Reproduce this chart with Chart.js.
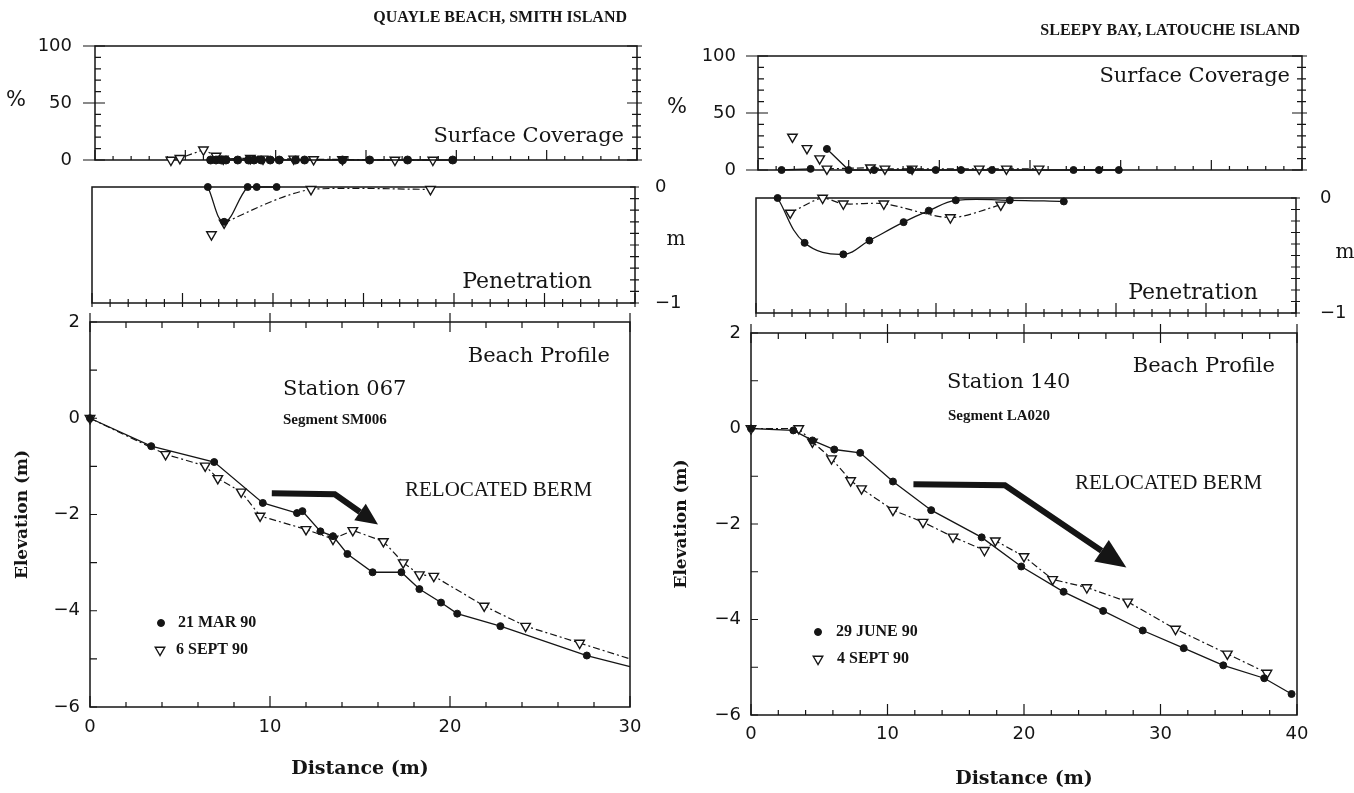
<!DOCTYPE html>
<html>
<head>
<meta charset="utf-8">
<script src="https://cdn.jsdelivr.net/npm/chart.js@4.4.1/dist/chart.umd.min.js"></script>
<style>
  html, body { margin: 0; background: #fff; }
  #wrap { position: relative; width: 1354px; height: 793px; overflow: hidden; }
  #wrap canvas { position: absolute; left: 0; top: 0; }
</style>
</head>
<body>
<div id="wrap">
  <canvas id="scL" width="1354" height="793"></canvas>
  <canvas id="penL" width="1354" height="793"></canvas>
  <canvas id="profL" width="1354" height="793"></canvas>
  <canvas id="scR" width="1354" height="793"></canvas>
  <canvas id="penR" width="1354" height="793"></canvas>
  <canvas id="profR" width="1354" height="793"></canvas>
</div>
<script>
// ---- Quayle Beach, Smith Island (Station 067) ----
const scMarX  = [6.4, 6.7, 7.0, 7.25, 7.9, 8.5, 8.8, 9.2, 9.7, 10.2, 11.1, 11.6, 13.7, 15.2, 17.3, 19.8];
const scMarY  = [0, 0, 0, 0, 0, 0, 0, 0, 0, 0, 0, 0, 0, 0, 0, 0];
const scSepX  = [4.2, 4.7, 6.0, 6.7, 7.1, 8.6, 9.3, 11.0, 12.1, 13.7, 16.6, 18.7];
const scSepY  = [0, 1.5, 9, 3.5, 1, 1.5, 1, 1, 0.5, 0.5, 0, 0];
const penMarX = [6.4, 7.3, 8.6, 9.1, 10.2];
const penMarY = [0, -0.30, 0, 0, 0];
const penSepX = [6.6, 7.3, 12.1, 18.7];
const penSepY = [-0.41, -0.31, -0.02, -0.02];
const profMarX = [0, 3.4, 6.9, 9.6, 11.5, 11.8, 12.8, 13.5, 14.3, 15.7, 17.3, 18.3, 19.5, 20.4, 22.8, 27.6, 30];
const profMarY = [0, -0.58, -0.91, -1.76, -1.97, -1.93, -2.35, -2.45, -2.82, -3.2, -3.2, -3.55, -3.83, -4.06, -4.32, -4.93, -5.16];
const profSepX = [0, 4.2, 6.4, 7.1, 8.4, 9.45, 12.0, 13.5, 14.6, 16.3, 17.4, 18.3, 19.1, 21.9, 24.2, 27.2, 30];
const profSepY = [0, -0.75, -0.99, -1.25, -1.53, -2.03, -2.31, -2.51, -2.33, -2.56, -3.0, -3.25, -3.28, -3.9, -4.32, -4.67, -5.0];

// ---- Sleepy Bay, Latouche Island (Station 140) ----
const scJunX  = [1.3, 2.9, 3.8, 5.0, 6.4, 8.4, 9.8, 11.2, 12.9, 17.4, 18.8, 19.9];
const scJunY  = [0, 1, 18.5, 0, 0, 0, 0, 0, 0, 0, 0, 0];
const scSep4X = [1.9, 2.7, 3.4, 3.8, 6.2, 7.0, 8.5, 12.2, 13.7, 15.5];
const scSep4Y = [29, 19, 10, 1, 2, 1, 1, 1, 1, 1];
const penJunX = [1.2, 2.7, 4.85, 6.3, 8.2, 9.6, 11.1, 14.1, 17.1];
const penJunY = [0, -0.39, -0.49, -0.37, -0.21, -0.11, -0.02, -0.02, -0.03];
const penSep4X = [1.9, 3.7, 4.85, 7.1, 10.8, 13.6];
const penSep4Y = [-0.13, 0, -0.05, -0.05, -0.17, -0.06];
const profJunX = [0, 3.1, 4.5, 6.1, 8.0, 10.4, 13.2, 16.9, 19.8, 22.9, 25.8, 28.7, 31.7, 34.6, 37.6, 39.6];
const profJunY = [0, -0.04, -0.25, -0.44, -0.51, -1.11, -1.71, -2.28, -2.89, -3.42, -3.82, -4.23, -4.6, -4.96, -5.23, -5.56];
const profSep4X = [0, 3.5, 4.5, 5.9, 7.3, 8.1, 10.4, 12.6, 14.8, 17.1, 17.9, 20.0, 22.1, 24.6, 27.6, 31.1, 34.9, 37.8];
const profSep4Y = [0, 0, -0.28, -0.63, -1.09, -1.26, -1.71, -1.96, -2.27, -2.55, -2.35, -2.68, -3.16, -3.33, -3.63, -4.2, -4.72, -5.12];

const INK = '#151515';
const SANS = '"DejaVu Sans", sans-serif';
const W = 1354, H = 793;

const minus = v => String(v).replace('-', '\u2212');
const pts = (xs, ys) => xs.map((x, i) => ({ x: x, y: ys[i] }));
const hide = list => c => list.includes(c.p0DataIndex) ? 'rgba(0,0,0,0)' : undefined;

function dots(xs, ys, extra) {
  return Object.assign({
    data: pts(xs, ys), borderColor: INK, borderWidth: 1.3, tension: 0, clip: false,
    pointStyle: 'circle', pointRadius: 3.5, pointBorderWidth: 1,
    pointBackgroundColor: INK, pointBorderColor: INK
  }, extra || {});
}
function tris(xs, ys, extra) {
  return Object.assign({
    data: pts(xs, ys), borderColor: INK, borderWidth: 1.2, borderDash: [7, 3, 2, 3], tension: 0, clip: false,
    pointStyle: 'triangle', pointRotation: 180, pointRadius: 5.5, pointBorderWidth: 1.4,
    pointBackgroundColor: '#fff', pointBorderColor: INK
  }, extra || {});
}
// line runs on to the frame edge without a marker at its last point
const noLast = (n, r) => c => c.dataIndex === n - 1 ? 0 : r;

// tick marks drawn along the frame, in scale units
const SC_TICKS = [
  { axis: 'x', side: 'bottom', step: 1, major: 5, minIn: 4, majIn: 10 },
  { axis: 'y', side: 'left', step: 10, major: 50, minIn: 6, majIn: 10, majOut: 12 },
  { axis: 'y', side: 'right', step: 10, major: 50, minIn: 5, minOut: 4, majIn: 10, majOut: 5 }
];
const PEN_TICKS = [
  { axis: 'x', side: 'bottom', step: 1, major: 5, minIn: 4, minOut: 4, majIn: 10, majOut: 4 },
  { axis: 'y', side: 'right', step: 0.1, major: 1, minIn: 5, minOut: 4, majIn: 5, majOut: 4 }
];
const PROF_TICKS = [
  { axis: 'y', side: 'left', step: 1, minIn: 7 },
  { axis: 'x', side: 'bottom', step: 2, major: 10, minIn: 5, majIn: 11 },
  { axis: 'x', side: 'top', step: 2, major: 10, minIn: 6, majIn: 10, majOut: 9 }
];

const DECOR = {};

function drawTicks(chart, t) {
  const s = chart.scales[t.axis], a = chart.chartArea, ctx = chart.ctx;
  const n = Math.round((s.max - s.min) / t.step);
  ctx.beginPath();
  for (let i = 0; i <= n; i++) {
    const v = s.min + i * t.step;
    const maj = t.major && Math.abs(v / t.major - Math.round(v / t.major)) < 1e-6;
    const inn = maj ? (t.majIn || 0) : (t.minIn || 0);
    const out = maj ? (t.majOut || 0) : (t.minOut || 0);
    const p = s.getPixelForValue(v);
    if (t.side === 'bottom') { ctx.moveTo(p, a.bottom + out); ctx.lineTo(p, a.bottom - inn); }
    if (t.side === 'top') { ctx.moveTo(p, a.top - out); ctx.lineTo(p, a.top + inn); }
    if (t.side === 'left') { ctx.moveTo(a.left - out, p); ctx.lineTo(a.left + inn, p); }
    if (t.side === 'right') { ctx.moveTo(a.right + out, p); ctx.lineTo(a.right - inn, p); }
  }
  ctx.stroke();
}

function drawArrow(chart, ar) {
  const xs = chart.scales.x, ys = chart.scales.y, ctx = chart.ctx;
  const p = ar.pts.map(q => [xs.getPixelForValue(q[0]), ys.getPixelForValue(q[1])]);
  const n = p.length, tip = p[n - 1], prev = p[n - 2];
  const ang = Math.atan2(tip[1] - prev[1], tip[0] - prev[0]);
  const base = [tip[0] - Math.cos(ang) * ar.head, tip[1] - Math.sin(ang) * ar.head];
  ctx.lineWidth = ar.w; ctx.lineJoin = 'miter'; ctx.lineCap = 'butt';
  ctx.beginPath();
  ctx.moveTo(p[0][0], p[0][1]);
  for (let i = 1; i < n - 1; i++) ctx.lineTo(p[i][0], p[i][1]);
  ctx.lineTo(base[0], base[1]);
  ctx.stroke();
  const hw = ar.headW / 2, nx = -Math.sin(ang), ny = Math.cos(ang);
  ctx.beginPath();
  ctx.moveTo(tip[0], tip[1]);
  ctx.lineTo(base[0] + nx * hw, base[1] + ny * hw);
  ctx.lineTo(base[0] - nx * hw, base[1] - ny * hw);
  ctx.closePath();
  ctx.fill();
}

const decor = {
  id: 'decor',
  beforeDatasetsDraw(chart) {
    const d = DECOR[chart.canvas.id] || {}, ctx = chart.ctx, a = chart.chartArea;
    ctx.save();
    ctx.strokeStyle = INK; ctx.lineWidth = 1.5;
    ctx.strokeRect(a.left, a.top, a.right - a.left, a.bottom - a.top);
    ctx.lineWidth = 1.2;
    (d.ticks || []).forEach(t => drawTicks(chart, t));
    ctx.restore();
  },
  afterDatasetsDraw(chart) {
    const d = DECOR[chart.canvas.id] || {}, ctx = chart.ctx;
    ctx.save();
    ctx.strokeStyle = INK; ctx.fillStyle = INK;
    (d.arrows || []).forEach(ar => drawArrow(chart, ar));
    (d.texts || []).forEach(t => {
      ctx.font = t.font; ctx.textAlign = t.align || 'left'; ctx.textBaseline = 'middle';
      ctx.fillStyle = INK;
      ctx.fillText(t.text, t.x, t.y);
    });
    (d.keys || []).forEach(k => {
      const ds = chart.data.datasets[k.ds];
      ctx.setLineDash([]);
      ctx.fillStyle = ds.pointBackgroundColor; ctx.strokeStyle = ds.pointBorderColor;
      ctx.lineWidth = ds.pointBorderWidth;
      Chart.helpers.drawPoint(ctx, { pointStyle: ds.pointStyle, rotation: ds.pointRotation || 0, radius: k.r, borderWidth: ds.pointBorderWidth }, k.x, k.y);
      ctx.fillStyle = INK;
      ctx.font = k.font; ctx.textAlign = 'left'; ctx.textBaseline = 'middle';
      ctx.fillText(k.text, k.tx, k.y);
    });
    ctx.restore();
  }
};

function panel(id, area, o) {
  const yPos = o.yPos || 'left';
  const yW = o.yW || 0, xH = o.xH || 0;
  const pad = {
    left: area.l - (yPos === 'left' ? yW : 0),
    right: W - area.r - (yPos === 'right' ? yW : 0),
    top: area.t,
    bottom: H - area.b - xH
  };
  DECOR[id] = o.decor;
  return new Chart(document.getElementById(id), {
    type: 'line',
    data: { datasets: o.datasets },
    options: {
      responsive: false, animation: false, events: [],
      layout: { padding: pad },
      plugins: { legend: { display: false }, tooltip: { enabled: false } },
      scales: {
        x: {
          type: 'linear', min: o.xMin, max: o.xMax, display: xH > 0,
          grid: { display: false, drawTicks: false }, border: { display: false },
          ticks: { stepSize: o.xStep, padding: o.xPad || 10, color: INK, maxRotation: 0,
                   font: { family: SANS, size: 18 } },
          title: o.xTitle || { display: false },
          afterFit: s => { s.height = xH; }
        },
        y: {
          type: 'linear', min: o.yMin, max: o.yMax, position: yPos, display: yW > 0,
          grid: { display: false, drawTicks: false }, border: { display: false },
          ticks: { stepSize: o.yStep, padding: o.yPad || 10, color: INK,
                   font: { family: SANS, size: 18 }, callback: v => minus(v) },
          title: o.yTitle || { display: false },
          afterFit: s => { s.width = yW; }
        }
      }
    },
    plugins: [decor]
  });
}

const ANNOT = '"DejaVu Serif", serif';
const TIMES = '"Liberation Serif", serif';
const xTitle = { display: true, text: 'Distance (m)', color: INK, padding: { top: 4, bottom: 0 },
                 font: { family: ANNOT, size: 19, weight: 'bold' } };
const yTitle = { display: true, text: 'Elevation (m)', color: INK, padding: { top: 4, bottom: 0 },
                 font: { family: ANNOT, size: 17, weight: 'bold' } };

// ---------- left column ----------
panel('scL', { l: 95, r: 637, t: 46, b: 160 }, {
  xMin: 0, xMax: 30, yMin: 0, yMax: 100, yStep: 50, yW: 60, yPad: 23,
  datasets: [dots(scMarX, scMarY, { pointRadius: 4 }), tris(scSepX, scSepY)],
  decor: { ticks: SC_TICKS, texts: [
    { text: 'QUAYLE BEACH, SMITH ISLAND', x: 627, y: 18, font: 'bold 16px ' + TIMES, align: 'right' },
    { text: '%', x: 16, y: 101, font: '21px ' + SANS, align: 'center' },
    { text: 'Surface Coverage', x: 624, y: 137, font: '21px ' + ANNOT, align: 'right' }
  ] }
});

panel('penL', { l: 92, r: 635, t: 187, b: 303 }, {
  xMin: 0, xMax: 30, yMin: -1, yMax: 0, yStep: 1, yPos: 'right', yW: 50, yPad: 20,
  datasets: [dots(penMarX, penMarY, { tension: 0.4 }),
             tris(penSepX, penSepY, { tension: 0.3, segment: { borderColor: hide([0]) } })],
  decor: { ticks: PEN_TICKS, texts: [
    { text: 'Penetration', x: 592, y: 282, font: '22px ' + ANNOT, align: 'right' },
    { text: 'm', x: 676, y: 240, font: '20px ' + ANNOT, align: 'center' }
  ] }
});

panel('profL', { l: 90, r: 630, t: 322, b: 707 }, {
  xMin: 0, xMax: 30, xStep: 10, yMin: -6, yMax: 2, yStep: 2, yW: 82, xH: 73, xPad: 10,
  xTitle: xTitle, yTitle: yTitle,
  datasets: [dots(profMarX, profMarY, { pointRadius: noLast(profMarX.length, 3.5) }),
             tris(profSepX, profSepY, { pointRadius: noLast(profSepX.length, 5.5) })],
  decor: {
    ticks: PROF_TICKS,
    arrows: [{ pts: [[10.1, -1.56], [13.6, -1.58], [16.0, -2.21]], w: 6, head: 22, headW: 20 }],
    texts: [
      { text: 'Beach Profile', x: 610, y: 357, font: '21px ' + ANNOT, align: 'right' },
      { text: 'Station 067', x: 283, y: 390, font: '21px ' + ANNOT, align: 'left' },
      { text: 'Segment SM006', x: 283, y: 420, font: 'bold 15px ' + TIMES, align: 'left' },
      { text: 'RELOCATED BERM', x: 405, y: 490, font: '21px ' + TIMES, align: 'left' }
    ],
    keys: [
      { ds: 0, r: 3.5, x: 161, y: 623, tx: 178, text: '21 MAR 90', font: 'bold 16px ' + TIMES },
      { ds: 1, r: 5.5, x: 160, y: 650, tx: 176, text: '6 SEPT 90', font: 'bold 16px ' + TIMES }
    ]
  }
});

// ---------- right column ----------
panel('scR', { l: 758, r: 1302, t: 56, b: 170 }, {
  xMin: 0, xMax: 30, yMin: 0, yMax: 100, yStep: 50, yW: 60, yPad: 22,
  datasets: [dots(scJunX, scJunY, { segment: { borderColor: hide([1]) } }),
             tris(scSep4X, scSep4Y, { segment: { borderColor: hide([0, 1, 2]) } })],
  decor: { ticks: SC_TICKS, texts: [
    { text: 'SLEEPY BAY, LATOUCHE ISLAND', x: 1300, y: 31, font: 'bold 16px ' + TIMES, align: 'right' },
    { text: '%', x: 677, y: 108, font: '21px ' + SANS, align: 'center' },
    { text: 'Surface Coverage', x: 1290, y: 77, font: '21px ' + ANNOT, align: 'right' }
  ] }
});

panel('penR', { l: 756, r: 1296, t: 198, b: 313 }, {
  xMin: 0, xMax: 30, yMin: -1, yMax: 0, yStep: 1, yPos: 'right', yW: 56, yPad: 24,
  datasets: [dots(penJunX, penJunY, { tension: 0.4 }), tris(penSep4X, penSep4Y, { tension: 0.3 })],
  decor: { ticks: PEN_TICKS, texts: [
    { text: 'Penetration', x: 1258, y: 293, font: '22px ' + ANNOT, align: 'right' },
    { text: 'm', x: 1345, y: 253, font: '20px ' + ANNOT, align: 'center' }
  ] }
});

panel('profR', { l: 751, r: 1297, t: 333, b: 715 }, {
  xMin: 0, xMax: 40, xStep: 10, yMin: -6, yMax: 2, yStep: 2, yW: 84, xH: 75, xPad: 9,
  xTitle: xTitle, yTitle: yTitle,
  datasets: [dots(profJunX, profJunY), tris(profSep4X, profSep4Y)],
  decor: {
    ticks: PROF_TICKS,
    arrows: [{ pts: [[11.9, -1.17], [18.6, -1.19], [27.5, -2.91]], w: 6, head: 30, headW: 26 }],
    texts: [
      { text: 'Beach Profile', x: 1275, y: 367, font: '21px ' + ANNOT, align: 'right' },
      { text: 'Station 140', x: 947, y: 383, font: '21px ' + ANNOT, align: 'left' },
      { text: 'Segment LA020', x: 948, y: 416, font: 'bold 15px ' + TIMES, align: 'left' },
      { text: 'RELOCATED BERM', x: 1075, y: 483, font: '21px ' + TIMES, align: 'left' }
    ],
    keys: [
      { ds: 0, r: 3.5, x: 818, y: 632, tx: 836, text: '29 JUNE 90', font: 'bold 16px ' + TIMES },
      { ds: 1, r: 5.5, x: 818, y: 659, tx: 837, text: '4 SEPT 90', font: 'bold 16px ' + TIMES }
    ]
  }
});
</script>
</body>
</html>
